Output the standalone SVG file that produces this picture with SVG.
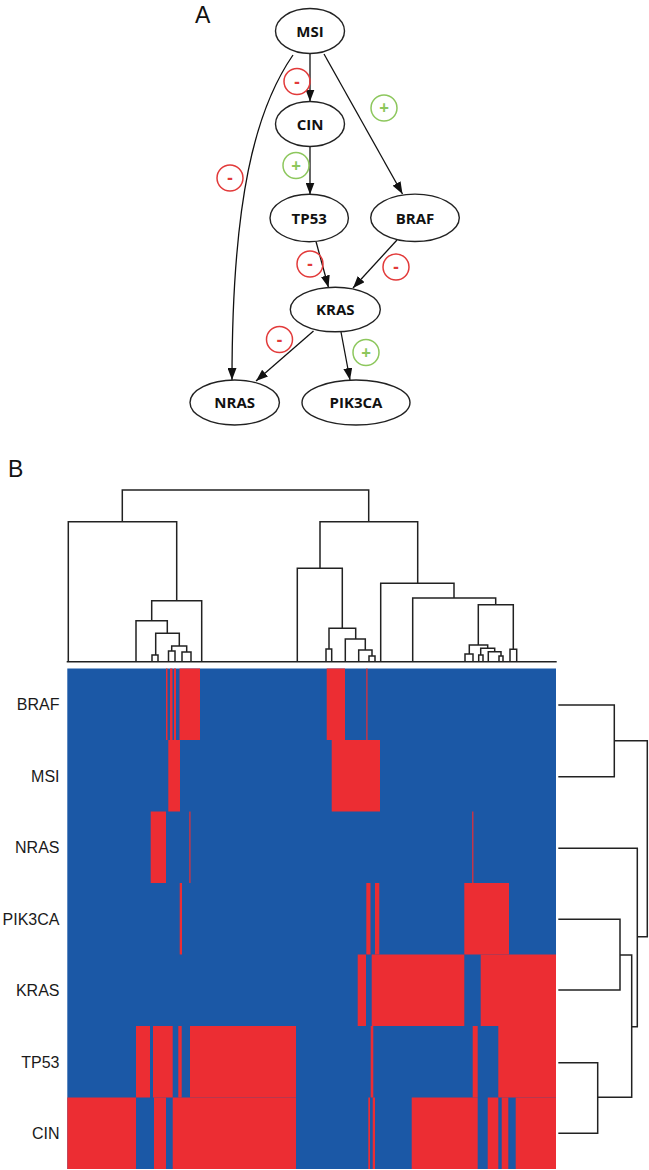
<svg xmlns="http://www.w3.org/2000/svg" width="649" height="1170" viewBox="0 0 649 1170">
<style>
.node ellipse{fill:#fff;stroke:#222;stroke-width:1.4}
.node text{font-family:"Open Sans","Liberation Sans",sans-serif;font-weight:bold;font-size:15px;fill:#111;text-anchor:middle}
.edge{fill:none;stroke:#111;stroke-width:1.3;marker-end:url(#ah)}
.neg circle{fill:none;stroke:#e23a3a;stroke-width:1.5}
.pos circle{fill:none;stroke:#8dc75d;stroke-width:1.5}
.neg text{fill:#e23a3a}
.pos text{fill:#8dc75d}
.sign text{font-family:"Open Sans","Liberation Sans",sans-serif;font-weight:bold;font-size:17px;text-anchor:middle}
.panel{font-family:"Liberation Sans",Arial,sans-serif;font-size:23px;fill:#111}
.lab{font-family:"Liberation Sans",Arial,sans-serif;font-size:16px;fill:#1a1a1a;text-anchor:end}
.dendro{fill:none;stroke:#222;stroke-width:1.5}
.b{fill:#1b58a6}
.r{fill:#ec2d33}
</style>
<defs>
<marker id="ah" viewBox="0 0 12 9" refX="12" refY="4.5" markerWidth="12" markerHeight="9" markerUnits="userSpaceOnUse" orient="auto"><path d="M0,0 L12,4.5 L0,9 z" fill="#111"/></marker>
</defs>
<rect width="649" height="1170" fill="#fff"/>
<text class="panel" x="195" y="23">A</text>
<text class="panel" x="8" y="477">B</text>

<g id="connectors">
<path class="edge" d="M310,53.5 L310,101.5"/>
<path class="edge" d="M310,146.5 L310,194.5"/>
<path class="edge" d="M324,54 L402.5,194"/>
<path class="edge" d="M316,241.5 L328.5,287.5"/>
<path class="edge" d="M397,240 L353,288"/>
<path class="edge" d="M313.5,331 L256,381"/>
<path class="edge" d="M341,332 L350,380"/>
<path class="edge" d="M293,55 C255,110 232,200 232,380"/>
</g>

<g id="signs" class="sign">
<g class="neg"><circle cx="297" cy="81.5" r="13"/><text x="297" y="87.5">-</text></g>
<g class="pos"><circle cx="384" cy="108" r="13"/><text x="384" y="114">+</text></g>
<g class="pos"><circle cx="296" cy="165.5" r="13"/><text x="296" y="171.5">+</text></g>
<g class="neg"><circle cx="230" cy="178" r="13"/><text x="230" y="184">-</text></g>
<g class="neg"><circle cx="310" cy="264" r="13"/><text x="310" y="270">-</text></g>
<g class="neg"><circle cx="396" cy="267" r="13"/><text x="396" y="273">-</text></g>
<g class="neg"><circle cx="279.5" cy="339.5" r="13"/><text x="279.5" y="345.5">-</text></g>
<g class="pos"><circle cx="366" cy="352.5" r="13"/><text x="366" y="358.5">+</text></g>
</g>

<g id="MSI" class="node"><ellipse cx="310" cy="31" rx="34.5" ry="22.5"/><text x="310" y="36.5">MSI</text></g>
<g id="CIN" class="node"><ellipse cx="310" cy="124" rx="34.5" ry="22.5"/><text x="310" y="129.5">CIN</text></g>
<g id="TP53" class="node"><ellipse cx="309.2" cy="218" rx="39.2" ry="23.7"/><text x="309.2" y="223.5">TP53</text></g>
<g id="BRAF" class="node"><ellipse cx="415" cy="217.8" rx="44.3" ry="23.7"/><text x="415" y="223.5">BRAF</text></g>
<g id="KRAS" class="node"><ellipse cx="335.3" cy="309.5" rx="45" ry="22.3"/><text x="335.3" y="315">KRAS</text></g>
<g id="NRAS" class="node"><ellipse cx="234.7" cy="402.5" rx="44.7" ry="22.5"/><text x="234.7" y="408">NRAS</text></g>
<g id="PIK3CA" class="node"><ellipse cx="356" cy="402.5" rx="54" ry="22.5"/><text x="356" y="408">PIK3CA</text></g>

<g id="top-dendrogram" class="dendro">
<path d="M66.7,661.7 H556.7"/>
<path d="M122.3,521.7 V490 H368.7 V521.7"/>
<path d="M68.3,661.7 V521.7 H176.7 V600.7"/>
<path d="M151.7,620.7 V600.7 H201.7 V661.7"/>
<path d="M136,661.7 V620.7 H167.3 V633.3"/>
<path d="M155.7,655 V633.3 H179.3 V646"/>
<path d="M171.7,651 V646 H186.7 V652"/>
<path d="M168.5,661.7 V651 H175 V661.7"/>
<path d="M182,661.7 V652 H191 V661.7"/>
<path d="M152,661.7 V655 H158 V661.7"/>
<path d="M320,568.3 V521.7 H417.7 V583.3"/>
<path d="M297.3,661.7 V568.3 H342.3 V628.3"/>
<path d="M329,649 V628.3 H355.7 V639"/>
<path d="M326,661.7 V649 H331.7 V661.7"/>
<path d="M345.3,661.7 V639 H365.3 V650"/>
<path d="M358.7,661.7 V650 H372 V656"/>
<path d="M369,661.7 V656 H375 V661.7"/>
<path d="M380.7,661.7 V583.3 H454 V598"/>
<path d="M412.7,661.7 V598 H495.7 V604.7"/>
<path d="M478.3,645 V604.7 H513.3 V649.3"/>
<path d="M510,661.7 V649.3 H516.7 V661.7"/>
<path d="M469.3,654 V645 H487.7 V648.3"/>
<path d="M465,661.7 V654 H473 V661.7"/>
<path d="M480.7,655 V648.3 H494.7 V651.7"/>
<path d="M478.7,661.7 V655 H483 V661.7"/>
<path d="M488.3,661.7 V651.7 H501 V656"/>
<path d="M499,661.7 V656 H503 V661.7"/>
</g>

<g id="heatmap">
<rect class="b" x="67.3" y="668.5" width="488.7" height="500.5"/>
<g id="row-BRAF">
<rect class="r" x="166" y="668.5" width="1.5" height="71.5"/>
<rect class="r" x="170" y="668.5" width="2.5" height="71.5"/>
<rect class="r" x="174" y="668.5" width="2" height="71.5"/>
<rect class="r" x="179.5" y="668.5" width="20.5" height="71.5"/>
<rect class="r" x="326.7" y="668.5" width="18.3" height="71.5"/>
<rect class="r" x="366.3" y="668.5" width="1.2" height="71.5"/>
</g>
<g id="row-MSI">
<rect class="r" x="168.3" y="740" width="11.7" height="71.5"/>
<rect class="r" x="331.7" y="740" width="48.3" height="71.5"/>
</g>
<g id="row-NRAS">
<rect class="r" x="150.7" y="811.5" width="15.3" height="71.5"/>
<rect class="r" x="189.3" y="811.5" width="1.2" height="71.5"/>
<rect class="r" x="472.2" y="811.5" width="1.2" height="71.5"/>
</g>
<g id="row-PIK3CA">
<rect class="r" x="179.7" y="883" width="2.3" height="71.5"/>
<rect class="r" x="366.3" y="883" width="4.2" height="71.5"/>
<rect class="r" x="375" y="883" width="4.3" height="71.5"/>
<rect class="r" x="464.3" y="883" width="44.7" height="71.5"/>
</g>
<g id="row-KRAS">
<rect class="r" x="357.7" y="954.5" width="8.3" height="71.5"/>
<rect class="r" x="371.7" y="954.5" width="92.6" height="71.5"/>
<rect class="r" x="480.7" y="954.5" width="75.3" height="71.5"/>
</g>
<g id="row-TP53">
<rect class="r" x="136" y="1026" width="14" height="71.5"/>
<rect class="r" x="153" y="1026" width="19.7" height="71.5"/>
<rect class="r" x="178.3" y="1026" width="3.4" height="71.5"/>
<rect class="r" x="190" y="1026" width="106" height="71.5"/>
<rect class="r" x="370.7" y="1026" width="2.6" height="71.5"/>
<rect class="r" x="472.7" y="1026" width="5" height="71.5"/>
<rect class="r" x="498.3" y="1026" width="57.7" height="71.5"/>
</g>
<g id="row-CIN">
<rect class="r" x="67.3" y="1097.5" width="68.7" height="71.5"/>
<rect class="r" x="154" y="1097.5" width="12" height="71.5"/>
<rect class="r" x="172.7" y="1097.5" width="123.3" height="71.5"/>
<rect class="r" x="368.3" y="1097.5" width="1.7" height="71.5"/>
<rect class="r" x="372.7" y="1097.5" width="2.3" height="71.5"/>
<rect class="r" x="411.7" y="1097.5" width="66" height="71.5"/>
<rect class="r" x="487.7" y="1097.5" width="10.6" height="71.5"/>
<rect class="r" x="501.7" y="1097.5" width="6.6" height="71.5"/>
<rect class="r" x="515.7" y="1097.5" width="40.3" height="71.5"/>
</g>
</g>

<g id="row-labels">
<text class="lab" x="59.5" y="710">BRAF</text>
<text class="lab" x="59.5" y="781.5">MSI</text>
<text class="lab" x="59.5" y="853">NRAS</text>
<text class="lab" x="59.5" y="924.5">PIK3CA</text>
<text class="lab" x="59.5" y="996">KRAS</text>
<text class="lab" x="59.5" y="1067.5">TP53</text>
<text class="lab" x="59.5" y="1139">CIN</text>
</g>

<g id="side-dendrogram" class="dendro">
<path d="M558.3,705 H614.3 V776.7 H558.3"/>
<path d="M614.3,740.7 H647.3 V936.7 H637.3"/>
<path d="M558.3,848.3 H637.3 V1026.7 H631.7"/>
<path d="M558.3,919.3 H620 V990 H558.3"/>
<path d="M620,955 H631.7 V1097.3 H597.7"/>
<path d="M558.3,1062.7 H597.7 V1133.3 H558.3"/>
</g>
</svg>
